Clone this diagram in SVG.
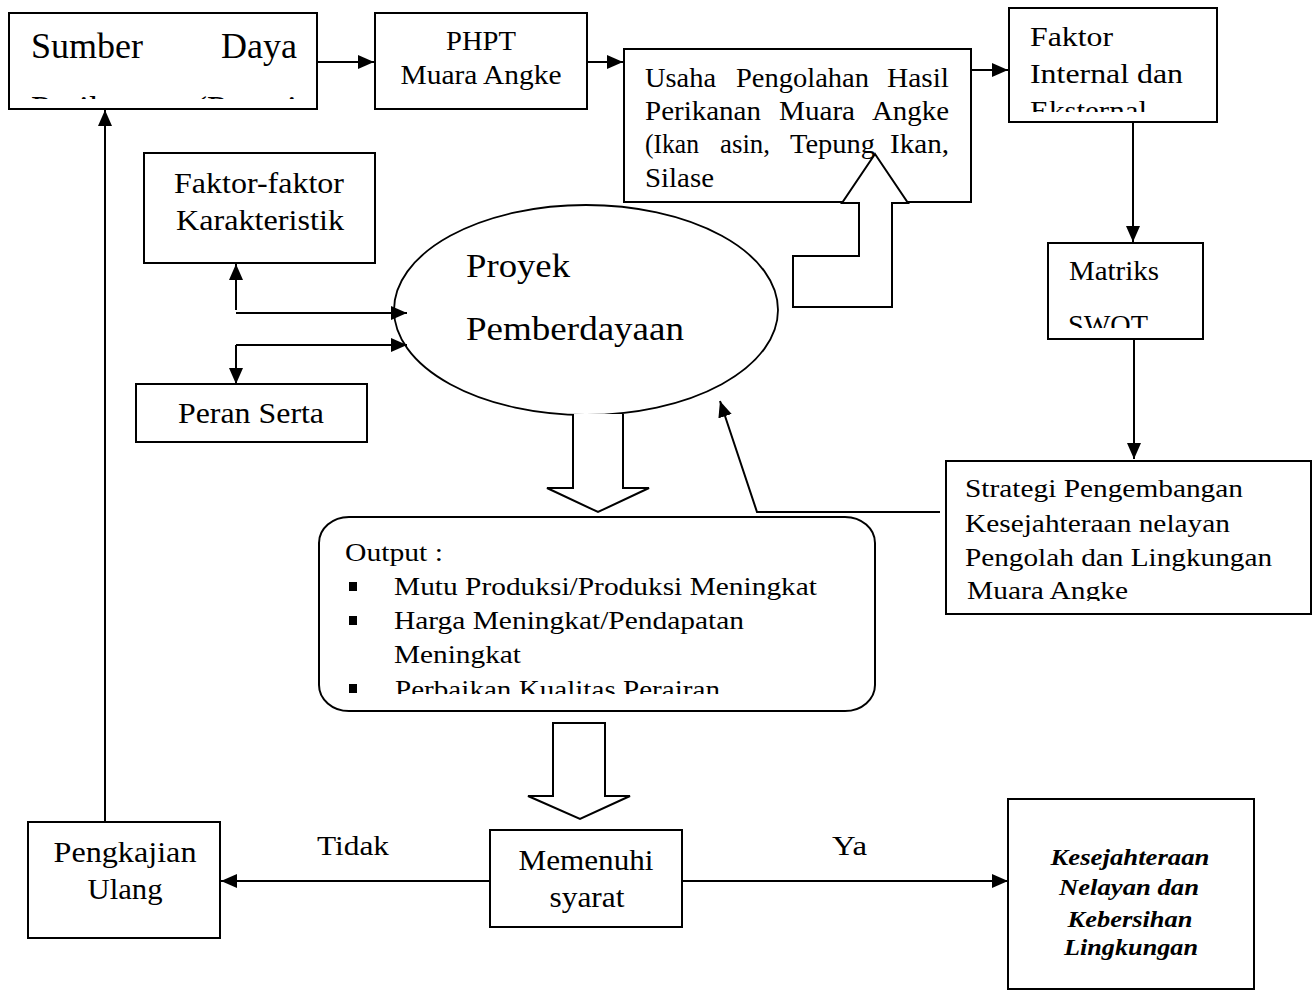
<svg xmlns="http://www.w3.org/2000/svg" width="1313" height="992" viewBox="0 0 1313 992" font-family="'Liberation Serif', serif">
<style>
.box{fill:#fff;stroke:#000;stroke-width:2}
.blk{fill:#fff;stroke:#000;stroke-width:2;stroke-linejoin:miter}
.ln{fill:none;stroke:#000;stroke-width:2}
text{font-family:'Liberation Serif',serif;fill:#000}
.bi{font-weight:bold;font-style:italic}
</style>
<defs>
<marker id="ah" markerUnits="userSpaceOnUse" markerWidth="17" markerHeight="15" refX="16" refY="7" orient="auto">
<path d="M0,0 L16,7 L0,14 z" fill="#000"/>
</marker>
<clipPath id="cSumber"><rect x="10" y="14" width="306" height="85"/></clipPath>
<clipPath id="cFaktor"><rect x="1010" y="9" width="206" height="103"/></clipPath>
<clipPath id="cSwot"><rect x="1049" y="244" width="153" height="84"/></clipPath>
<clipPath id="cOutput"><rect x="320" y="518" width="554" height="176"/></clipPath>
<clipPath id="cStrat"><rect x="947" y="462" width="363" height="139"/></clipPath>
</defs>

<g id="sumber-daya">
<rect class="box" x="9" y="13" width="308" height="96"/>
<g clip-path="url(#cSumber)" font-size="36">
<text x="31" y="58">Sumber</text>
<text x="297" y="58" text-anchor="end">Daya</text>
<text x="31" y="121">Perikanan</text>
<text x="297" y="121" text-anchor="end">(Pantai</text>
</g>
</g>

<g id="phpt">
<rect class="box" x="375" y="13" width="212" height="96"/>
<text font-size="27" x="481" y="50" text-anchor="middle" textLength="70" lengthAdjust="spacingAndGlyphs">PHPT</text>
<text font-size="27" x="481" y="84" text-anchor="middle" textLength="161" lengthAdjust="spacingAndGlyphs">Muara Angke</text>
</g>

<g id="usaha">
<rect class="box" x="624" y="49" width="347" height="153"/>
<g font-size="27">
<text x="645" y="87" textLength="71" lengthAdjust="spacingAndGlyphs">Usaha</text>
<text x="736" y="87" textLength="133" lengthAdjust="spacingAndGlyphs">Pengolahan</text>
<text x="887" y="87" textLength="62" lengthAdjust="spacingAndGlyphs">Hasil</text>
<text x="645" y="120" textLength="116" lengthAdjust="spacingAndGlyphs">Perikanan</text>
<text x="779" y="120" textLength="76" lengthAdjust="spacingAndGlyphs">Muara</text>
<text x="872" y="120" textLength="77" lengthAdjust="spacingAndGlyphs">Angke</text>
<text x="645" y="153" textLength="54" lengthAdjust="spacingAndGlyphs">(Ikan</text>
<text x="720" y="153" textLength="50" lengthAdjust="spacingAndGlyphs">asin,</text>
<text x="790" y="153" textLength="85" lengthAdjust="spacingAndGlyphs">Tepung</text>
<text x="890" y="153" textLength="59" lengthAdjust="spacingAndGlyphs">Ikan,</text>
<text x="645" y="187" textLength="69" lengthAdjust="spacingAndGlyphs">Silase</text>
</g>
</g>

<g id="faktor-internal-eksternal">
<rect class="box" x="1009" y="8" width="208" height="114"/>
<g clip-path="url(#cFaktor)" font-size="27">
<text x="1030" y="46" textLength="83" lengthAdjust="spacingAndGlyphs">Faktor</text>
<text x="1030" y="83" textLength="153" lengthAdjust="spacingAndGlyphs">Internal dan</text>
<text x="1030" y="120" textLength="117" lengthAdjust="spacingAndGlyphs">Eksternal</text>
</g>
</g>

<g id="faktor-karakteristik">
<rect class="box" x="144" y="153" width="231" height="110"/>
<text font-size="29" x="259" y="193" text-anchor="middle" textLength="170" lengthAdjust="spacingAndGlyphs">Faktor-faktor</text>
<text font-size="29" x="260" y="230" text-anchor="middle" textLength="168" lengthAdjust="spacingAndGlyphs">Karakteristik</text>
</g>

<g id="peran-serta">
<rect class="box" x="136" y="384" width="231" height="58"/>
<text font-size="29" x="251" y="423" text-anchor="middle" textLength="146" lengthAdjust="spacingAndGlyphs">Peran Serta</text>
</g>

<g id="proyek-pemberdayaan">
<ellipse cx="586" cy="310" rx="192" ry="105" fill="#fff" stroke="#000" stroke-width="1.8"/>
<text font-size="33" x="466" y="277" textLength="104" lengthAdjust="spacingAndGlyphs">Proyek</text>
<text font-size="33" x="466" y="340" textLength="218" lengthAdjust="spacingAndGlyphs">Pemberdayaan</text>
</g>

<g id="matriks-swot">
<rect class="box" x="1048" y="243" width="155" height="96"/>
<g clip-path="url(#cSwot)" font-size="28">
<text x="1069" y="280" textLength="90" lengthAdjust="spacingAndGlyphs">Matriks</text>
<text x="1068" y="334" textLength="80" lengthAdjust="spacingAndGlyphs">SWOT</text>
</g>
</g>

<g id="strategi">
<rect class="box" x="946" y="461" width="365" height="153"/>
<g clip-path="url(#cStrat)" font-size="25">
<text x="965" y="497" textLength="278" lengthAdjust="spacingAndGlyphs">Strategi Pengembangan</text>
<text x="965" y="532" textLength="265" lengthAdjust="spacingAndGlyphs">Kesejahteraan nelayan</text>
<text x="965" y="566" textLength="307" lengthAdjust="spacingAndGlyphs">Pengolah dan Lingkungan</text>
<text x="967" y="599" textLength="161" lengthAdjust="spacingAndGlyphs">Muara Angke</text>
</g>
</g>

<g id="output">
<rect class="box" x="319" y="517" width="556" height="194" rx="30" ry="26"/>
<g clip-path="url(#cOutput)">
<g font-size="25">
<text x="345" y="561" textLength="98" lengthAdjust="spacingAndGlyphs">Output :</text>
<text x="394" y="595" textLength="423" lengthAdjust="spacingAndGlyphs">Mutu Produksi/Produksi Meningkat</text>
<text x="394" y="629" textLength="350" lengthAdjust="spacingAndGlyphs">Harga Meningkat/Pendapatan</text>
<text x="394" y="663" textLength="127" lengthAdjust="spacingAndGlyphs">Meningkat</text>
<text x="395" y="698" textLength="325" lengthAdjust="spacingAndGlyphs">Perbaikan Kualitas Perairan</text>
</g>
<rect x="349" y="582" width="8" height="9" fill="#000"/>
<rect x="349" y="616" width="8" height="9" fill="#000"/>
<rect x="349" y="684" width="8" height="9" fill="#000"/>
</g>
</g>

<g id="pengkajian-ulang">
<rect class="box" x="28" y="822" width="192" height="116"/>
<text font-size="29" x="125" y="862" text-anchor="middle" textLength="143" lengthAdjust="spacingAndGlyphs">Pengkajian</text>
<text font-size="29" x="125" y="899" text-anchor="middle" textLength="75" lengthAdjust="spacingAndGlyphs">Ulang</text>
</g>

<g id="memenuhi-syarat">
<rect class="box" x="490" y="830" width="192" height="97"/>
<text font-size="29" x="586" y="870" text-anchor="middle" textLength="135" lengthAdjust="spacingAndGlyphs">Memenuhi</text>
<text font-size="29" x="587" y="907" text-anchor="middle" textLength="75" lengthAdjust="spacingAndGlyphs">syarat</text>
</g>

<g id="kesejahteraan">
<rect class="box" x="1008" y="799" width="246" height="190"/>
<g class="bi" font-size="24" text-anchor="middle">
<text class="bi" x="1130" y="865" textLength="159" lengthAdjust="spacingAndGlyphs">Kesejahteraan</text>
<text class="bi" x="1129" y="895" textLength="140" lengthAdjust="spacingAndGlyphs">Nelayan dan</text>
<text class="bi" x="1130" y="927" textLength="125" lengthAdjust="spacingAndGlyphs">Kebersihan</text>
<text class="bi" x="1131" y="955" textLength="134" lengthAdjust="spacingAndGlyphs">Lingkungan</text>
</g>
</g>

<g id="connectors">
<path class="ln" d="M317,62 H374" marker-end="url(#ah)"/>
<path class="ln" d="M587,62 H623" marker-end="url(#ah)"/>
<path class="ln" d="M971,70 H1008" marker-end="url(#ah)"/>
<path class="ln" d="M1133,123 V242" marker-end="url(#ah)"/>
<path class="ln" d="M1134,339 V459" marker-end="url(#ah)"/>
<path class="ln" d="M940,512 H757 L720,401" marker-end="url(#ah)" stroke-linejoin="miter"/>
<path class="ln" d="M105,822 V110" marker-end="url(#ah)"/>
<path class="ln" d="M236,310 V264" marker-end="url(#ah)"/>
<path class="ln" d="M236,313 H407" marker-end="url(#ah)"/>
<path class="ln" d="M236,345 H407" marker-end="url(#ah)"/>
<path class="ln" d="M236,345 V384" marker-end="url(#ah)"/>
<path class="ln" d="M490,881 H221" marker-end="url(#ah)"/>
<path class="ln" d="M682,881 H1008" marker-end="url(#ah)"/>
<path class="blk" d="M573,414 V488 H547 L598,512 L649,488 H623 V414"/>
<path class="blk" d="M553,723 H605 V796 H630 L580,819 L528,796 H553 Z"/>
<path class="blk" d="M875,154 L908,203 H892 V307 H793 V256 H859 V203 H842 Z"/>
<text font-size="28" x="317" y="855" textLength="72" lengthAdjust="spacingAndGlyphs">Tidak</text>
<text font-size="28" x="832" y="855" textLength="35" lengthAdjust="spacingAndGlyphs">Ya</text>
</g>
</svg>
